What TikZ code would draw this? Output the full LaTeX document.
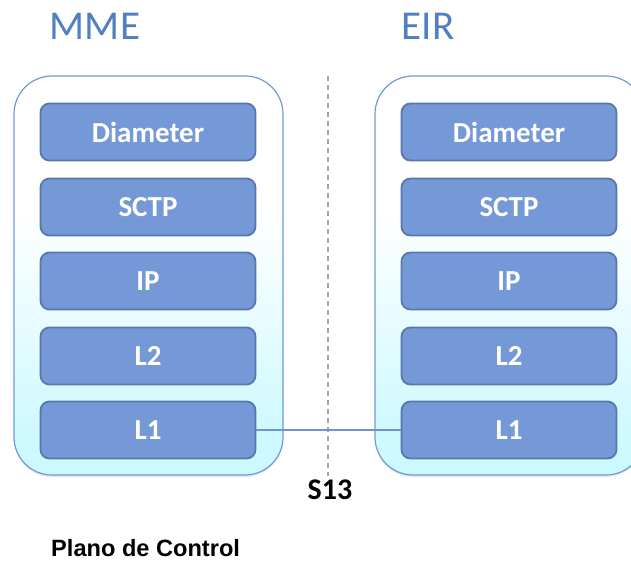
\documentclass[tikz,border=0pt]{standalone}
\usepackage{fontspec}
\setmainfont{Carlito}
\newfontfamily\arialb{Liberation Sans}
\usetikzlibrary{shadows}
\definecolor{boxfill}{RGB}{117,152,214}
\definecolor{boxline}{RGB}{88,120,172}
\definecolor{contline}{RGB}{110,155,215}
\definecolor{cyanL}{RGB}{190,247,255}
\definecolor{titleblue}{RGB}{80,128,192}
\definecolor{dashcol}{RGB}{170,162,185}
\definecolor{linkcol}{RGB}{112,145,210}
\pgfdeclareverticalshading{contshade}{100bp}{color(0bp)=(cyanL); color(30bp)=(cyanL!75!white); color(58bp)=(white); color(100bp)=(white)}
\tikzset{
  container/.style={draw=contline, line width=1.2pt, rounded corners=38pt, shading=contshade,
    drop shadow={opacity=0.18, shadow xshift=0pt, shadow yshift=-2pt}},
  layerbox/.style={draw=boxline, fill=boxfill, line width=1.8pt, rounded corners=9pt,
    minimum width=215pt, minimum height=57pt, inner sep=0pt,
    text=white, font=\fontsize{29}{32}\selectfont\bfseries},
  titletext/.style={font=\fontsize{41}{45}\selectfont, inner sep=0pt, text=titleblue},
  link/.style={draw=linkcol, line width=2.2pt},
  divider/.style={draw=dashcol, line width=1.4pt, dash pattern=on 5pt off 4pt}
}
\begin{document}
\begin{tikzpicture}[x=1pt,y=1pt]
\useasboundingbox (0,0) rectangle (631,-563);
% containers
\path[container] (14,-76) rectangle (283,-475);
\path[container] (375,-76) rectangle (644,-475);
% divider
\coordinate (dtop) at (328,-76);
\coordinate (dbot) at (328,-476);
\draw[divider] (dtop) -- (dbot);
% titles
\node[titletext] (mme) at (95,-26) {MME};
\node[titletext] (eir) at (428,-26) {EIR};
% left stack
\node[layerbox] (mDia) at (148,-132) {Diameter};
\node[layerbox] (mSctp) at (148,-207) {SCTP};
\node[layerbox] (mIp) at (148,-281) {IP};
\node[layerbox] (mL2) at (148,-356) {L2};
\node[layerbox] (mL1) at (148,-430) {L1};
% right stack
\node[layerbox] (eDia) at (509,-132) {Diameter};
\node[layerbox] (eSctp) at (509,-207) {SCTP};
\node[layerbox] (eIp) at (509,-281) {IP};
\node[layerbox] (eL2) at (509,-356) {L2};
\node[layerbox] (eL1) at (509,-430) {L1};
% link
\draw[link] (mL1.east) -- (eL1.west);
% labels
\node[font=\fontsize{30}{33}\selectfont\bfseries, inner sep=0pt] (s13) at (330,-490) {S13};
\node[font=\arialb\fontsize{23.6}{27}\selectfont\bfseries, inner sep=0pt, anchor=west] (plano) at (51,-548) {Plano de Control};
\end{tikzpicture}
\end{document}
